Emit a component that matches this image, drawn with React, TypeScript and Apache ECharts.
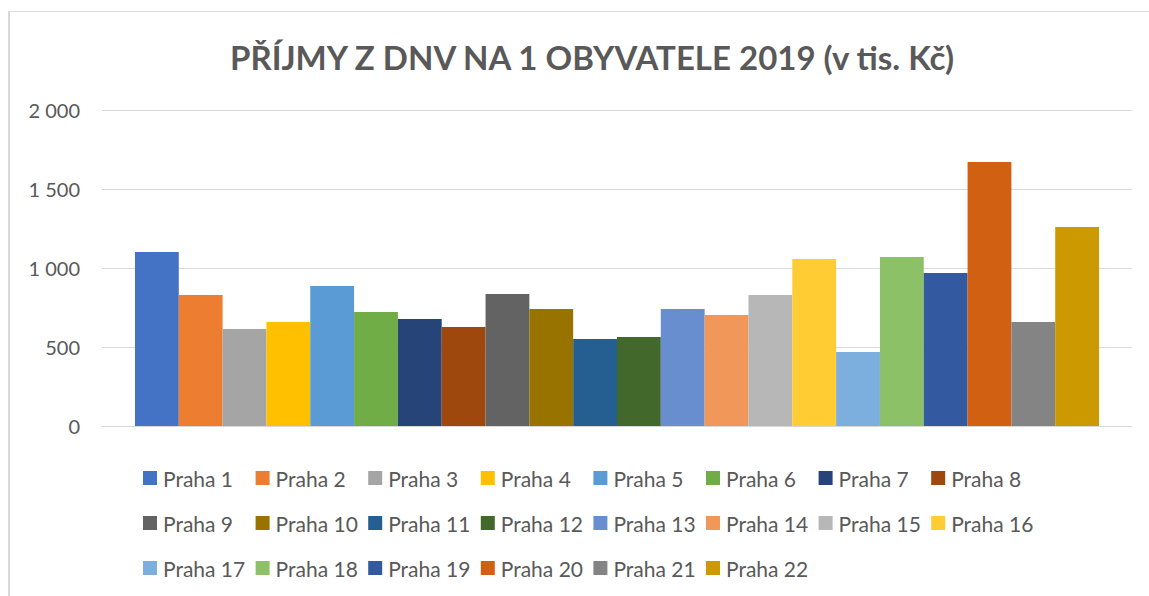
import React, { useEffect, useRef } from "react";
import * as echarts from "echarts";

const seriesNames = [
  "Praha 1", "Praha 2", "Praha 3", "Praha 4", "Praha 5", "Praha 6", "Praha 7", "Praha 8",
  "Praha 9", "Praha 10", "Praha 11", "Praha 12", "Praha 13", "Praha 14", "Praha 15", "Praha 16",
  "Praha 17", "Praha 18", "Praha 19", "Praha 20", "Praha 21", "Praha 22",
];
const values = [
  1101, 829, 614, 658, 886, 722, 677, 627,
  835, 741, 551, 563, 741, 703, 829, 1057,
  468, 1070, 968, 1671, 658, 1259,
];
const colors = [
  "#4472C4", "#ED7D31", "#A5A5A5", "#FFC000", "#5B9BD5", "#70AD47", "#264478", "#9E480E",
  "#636363", "#997300", "#255E91", "#43682B", "#698ED0", "#F1975A", "#B7B7B7", "#FFCD33",
  "#7CAFDD", "#8CC168", "#335AA1", "#D26012", "#848484", "#CC9A00",
];
const categories = [""];
const yTicks = { min: 0, max: 2000, interval: 500 };
const titleText = "PŘÍJMY Z DNV NA 1 OBYVATELE 2019 (v tis. Kč)";

const FONT = "Lato, 'Noto Sans', sans-serif";
const GRAY = "#595959";

export default function App() {
  const ref = useRef<HTMLDivElement>(null);
  useEffect(() => {
    if (!ref.current) return;
    const chart = echarts.init(ref.current, null, { renderer: "svg" });
    const legendRows = [
      seriesNames.slice(0, 8),
      seriesNames.slice(8, 16),
      seriesNames.slice(16, 22),
    ];
    const legendTops = [466, 511, 556];
    chart.setOption({
      animation: false,
      color: colors,
      title: {
        text: titleText,
        left: 587,
        textAlign: "center",
        top: 35,
        textStyle: { fontFamily: FONT, fontSize: 33, fontWeight: "bold", color: GRAY },
      },
      grid: { left: 102, right: 17, top: 110, bottom: 170, containLabel: false },
      xAxis: {
        type: "category",
        data: categories,
        axisLine: { show: true, lineStyle: { color: "#d9d9d9", width: 1 } },
        axisTick: { show: false },
        axisLabel: { show: false },
      },
      yAxis: {
        type: "value",
        min: yTicks.min,
        max: yTicks.max,
        interval: yTicks.interval,
        axisLine: { show: false },
        axisTick: { show: false },
        splitLine: { lineStyle: { color: "#d9d9d9", width: 1 } },
        axisLabel: {
          fontFamily: FONT,
          fontSize: 20,
          color: GRAY,
          margin: 22,
          formatter: (v: number) => String(v).replace(/\B(?=(\d{3})+(?!\d))/g, " "),
        },
      },
      legend: legendRows.map((row, i) => ({
        data: row,
        left: 143,
        top: legendTops[i],
        padding: 0,
        orient: "horizontal",
        itemWidth: 14,
        itemHeight: 14,
        itemGap: 10,
        icon: "rect",
        textStyle: {
          fontFamily: FONT,
          fontSize: 21,
          color: GRAY,
          width: 82.6,
          lineHeight: 24,
          padding: [0, 0, 0, 1],
        },
      })),
      series: seriesNames.map((name, i) => ({
        name,
        type: "bar",
        data: [values[i]],
        barGap: "0%",
        barCategoryGap: "6.4%",
        itemStyle: { color: colors[i] },
      })),
      graphic: [
        { type: "line", shape: { x1: 9, y1: 11, x2: 9, y2: 596 }, style: { stroke: "#d9d9d9", lineWidth: 2 } },
        { type: "line", shape: { x1: 8, y1: 11.5, x2: 1149, y2: 11.5 }, style: { stroke: "#d9d9d9", lineWidth: 1 } },
      ],
    });
    return () => chart.dispose();
  }, []);
  return (
    <div
      ref={ref}
      style={{ position: "fixed", left: 0, top: 0, width: 1149, height: 596, background: "#fff" }}
    />
  );
}
